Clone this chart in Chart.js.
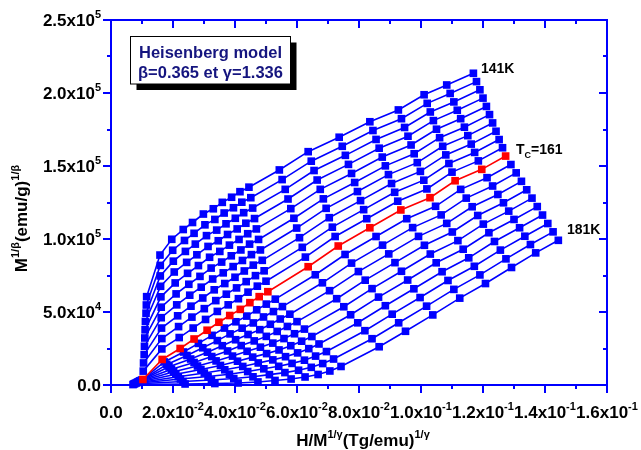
<!DOCTYPE html>
<html>
<head>
<meta charset="utf-8">
<title>Modified Arrott plot</title>
<script src="https://cdn.jsdelivr.net/npm/chart.js@4/dist/chart.umd.min.js"></script>
<style>
  html, body { margin: 0; padding: 0; background: #ffffff; }
  canvas { display: block; }
</style>
</head>
<body>
<canvas id="chart" width="641" height="450"></canvas>
<script>
// H/M^(1/γ) values are given in units of 10^-2 (Tg/emu)^(1/γ),
// M^(1/β) values in units of 10^4 (emu/g)^(1/β).
const X_UNIT = 1e-2;
const Y_UNIT = 1e4;

const temperatures = [141, 143, 145, 147, 149, 151, 153, 155, 157, 159, 161,
                      163, 165, 167, 169, 171, 173, 175, 177, 179, 181];
const TC = 161;

const x141 = [1.15, 1.58, 1.96, 2.33, 2.63, 2.98, 3.30, 3.59, 3.89, 4.16, 4.45, 5.43, 6.36, 7.36, 8.35, 9.27, 10.10, 10.83, 11.69];
const y141 = [6.05, 8.90, 9.98, 10.65, 11.13, 11.71, 12.07, 12.51, 12.86, 13.24, 13.55, 14.73, 15.98, 16.97, 18.03, 18.84, 19.88, 20.55, 21.35];
const x143 = [1.14, 1.59, 1.99, 2.37, 2.68, 3.03, 3.35, 3.65, 3.95, 4.22, 4.51, 5.52, 6.46, 7.46, 8.45, 9.37, 10.20, 10.94, 11.79];
const y143 = [5.48, 8.19, 9.23, 9.90, 10.39, 10.97, 11.34, 11.78, 12.14, 12.52, 12.83, 14.07, 15.33, 16.35, 17.43, 18.24, 19.29, 19.97, 20.78];
const x145 = [1.13, 1.59, 2.01, 2.40, 2.72, 3.08, 3.41, 3.71, 4.01, 4.28, 4.57, 5.62, 6.55, 7.56, 8.55, 9.47, 10.30, 11.06, 11.90];
const y145 = [4.92, 7.47, 8.48, 9.15, 9.65, 10.23, 10.61, 11.04, 11.42, 11.80, 12.12, 13.40, 14.69, 15.73, 16.82, 17.64, 18.70, 19.39, 20.22];
const x147 = [1.11, 1.60, 2.04, 2.44, 2.77, 3.13, 3.46, 3.76, 4.07, 4.35, 4.63, 5.71, 6.65, 7.66, 8.65, 9.58, 10.40, 11.17, 12.00];
const y147 = [4.35, 6.76, 7.74, 8.40, 8.92, 9.49, 9.88, 10.31, 10.69, 11.08, 11.40, 12.74, 14.04, 15.11, 16.22, 17.04, 18.11, 18.82, 19.65];
const x149 = [1.10, 1.61, 2.07, 2.47, 2.82, 3.18, 3.51, 3.82, 4.13, 4.41, 4.69, 5.80, 6.75, 7.76, 8.75, 9.68, 10.50, 11.28, 12.11];
const y149 = [3.78, 6.04, 6.99, 7.65, 8.18, 8.75, 9.15, 9.58, 9.97, 10.36, 10.69, 12.08, 13.40, 14.49, 15.61, 16.44, 17.52, 18.24, 19.08];
const x151 = [1.09, 1.62, 2.10, 2.51, 2.87, 3.23, 3.57, 3.88, 4.19, 4.47, 4.76, 5.90, 6.85, 7.86, 8.85, 9.78, 10.60, 11.40, 12.21];
const y151 = [3.22, 5.33, 6.24, 6.90, 7.44, 8.01, 8.42, 8.85, 9.25, 9.65, 9.97, 11.42, 12.75, 13.87, 15.01, 15.84, 16.94, 17.66, 18.52];
const x153 = [1.08, 1.62, 2.12, 2.54, 2.91, 3.28, 3.62, 3.94, 4.24, 4.53, 4.82, 5.99, 6.94, 7.95, 8.95, 9.88, 10.70, 11.51, 12.31];
const y153 = [2.65, 4.61, 5.49, 6.15, 6.70, 7.26, 7.68, 8.11, 8.53, 8.93, 9.25, 10.75, 12.10, 13.25, 14.41, 15.23, 16.35, 17.08, 17.95];
const x155 = [1.07, 1.63, 2.15, 2.58, 2.96, 3.33, 3.67, 4.00, 4.30, 4.59, 4.88, 6.08, 7.04, 8.05, 9.05, 9.98, 10.80, 11.62, 12.42];
const y155 = [2.08, 3.90, 4.74, 5.40, 5.96, 6.52, 6.95, 7.38, 7.81, 8.21, 8.54, 10.09, 11.46, 12.63, 13.80, 14.63, 15.76, 16.50, 17.38];
const x157 = [1.05, 1.64, 2.18, 2.61, 3.01, 3.38, 3.72, 4.05, 4.36, 4.66, 4.94, 6.17, 7.14, 8.15, 9.15, 10.09, 10.90, 11.73, 12.52];
const y157 = [1.51, 3.18, 4.00, 4.65, 5.23, 5.78, 6.22, 6.65, 7.08, 7.49, 7.82, 9.43, 10.81, 12.01, 13.20, 14.03, 15.17, 15.93, 16.81];
const x159 = [1.04, 1.64, 2.20, 2.65, 3.05, 3.43, 3.78, 4.11, 4.42, 4.72, 5.00, 6.27, 7.23, 8.25, 9.25, 10.19, 11.00, 11.85, 12.63];
const y159 = [0.95, 2.47, 3.25, 3.90, 4.49, 5.04, 5.49, 5.91, 6.36, 6.77, 7.11, 8.76, 10.17, 11.39, 12.59, 13.43, 14.58, 15.35, 16.25];
const x161 = [1.03, 1.65, 2.23, 2.68, 3.10, 3.48, 3.83, 4.17, 4.48, 4.78, 5.06, 6.36, 7.33, 8.35, 9.35, 10.29, 11.10, 11.96, 12.73];
const y161 = [0.38, 1.75, 2.50, 3.15, 3.75, 4.30, 4.76, 5.18, 5.64, 6.05, 6.39, 8.10, 9.52, 10.77, 11.99, 12.83, 13.99, 14.77, 15.68];
const x163 = [1.00, 1.72, 2.34, 2.82, 3.26, 3.66, 4.03, 4.38, 4.70, 5.01, 5.30, 6.59, 7.55, 8.55, 9.54, 10.47, 11.28, 12.13, 12.90];
const y163 = [0.35, 1.58, 2.26, 2.85, 3.40, 3.90, 4.33, 4.72, 5.15, 5.54, 5.88, 7.55, 8.94, 10.17, 11.39, 12.24, 13.40, 14.20, 15.10];
const x165 = [0.97, 1.80, 2.45, 2.96, 3.43, 3.84, 4.23, 4.59, 4.92, 5.24, 5.53, 6.82, 7.76, 8.76, 9.73, 10.65, 11.46, 12.31, 13.07];
const y165 = [0.31, 1.41, 2.02, 2.55, 3.04, 3.50, 3.89, 4.25, 4.66, 5.03, 5.37, 7.00, 8.35, 9.58, 10.78, 11.65, 12.80, 13.63, 14.53];
const x167 = [0.93, 1.87, 2.57, 3.11, 3.59, 4.02, 4.42, 4.80, 5.14, 5.46, 5.77, 7.05, 7.98, 8.96, 9.92, 10.83, 11.65, 12.48, 13.24];
const y167 = [0.28, 1.25, 1.78, 2.25, 2.69, 3.10, 3.46, 3.79, 4.16, 4.52, 4.85, 6.46, 7.77, 8.98, 10.18, 11.07, 12.21, 13.05, 13.95];
const x169 = [0.90, 1.95, 2.68, 3.25, 3.76, 4.20, 4.62, 5.01, 5.36, 5.69, 6.00, 7.28, 8.20, 9.16, 10.11, 11.01, 11.83, 12.66, 13.41];
const y169 = [0.24, 1.08, 1.54, 1.95, 2.33, 2.70, 3.02, 3.33, 3.67, 4.01, 4.34, 5.91, 7.18, 8.38, 9.57, 10.48, 11.61, 12.48, 13.37];
const x171 = [0.87, 2.02, 2.79, 3.39, 3.92, 4.39, 4.82, 5.22, 5.58, 5.92, 6.24, 7.51, 8.42, 9.37, 10.30, 11.19, 12.01, 12.83, 13.58];
const y171 = [0.21, 0.91, 1.30, 1.65, 1.98, 2.31, 2.59, 2.87, 3.18, 3.51, 3.83, 5.36, 6.60, 7.79, 8.97, 9.89, 11.02, 11.91, 12.80];
const x173 = [0.84, 2.09, 2.90, 3.53, 4.08, 4.57, 5.02, 5.42, 5.80, 6.15, 6.48, 7.73, 8.63, 9.57, 10.49, 11.36, 12.19, 13.00, 13.75];
const y173 = [0.17, 0.74, 1.06, 1.34, 1.63, 1.91, 2.15, 2.40, 2.69, 3.00, 3.32, 4.81, 6.02, 7.19, 8.37, 9.30, 10.43, 11.34, 12.22];
const x175 = [0.81, 2.17, 3.01, 3.67, 4.25, 4.75, 5.22, 5.63, 6.02, 6.38, 6.71, 7.96, 8.85, 9.77, 10.68, 11.54, 12.37, 13.18, 13.92];
const y175 = [0.14, 0.57, 0.82, 1.04, 1.27, 1.51, 1.72, 1.94, 2.20, 2.49, 2.81, 4.26, 5.43, 6.59, 7.76, 8.71, 9.83, 10.77, 11.64];
const x177 = [0.77, 2.24, 3.13, 3.82, 4.41, 4.93, 5.41, 5.84, 6.24, 6.60, 6.95, 8.19, 9.07, 9.97, 10.87, 11.72, 12.56, 13.35, 14.09];
const y177 = [0.10, 0.41, 0.58, 0.74, 0.92, 1.11, 1.28, 1.48, 1.70, 1.98, 2.29, 3.72, 4.85, 5.99, 7.16, 8.13, 9.24, 10.19, 11.06];
const x179 = [0.74, 2.32, 3.24, 3.96, 4.58, 5.11, 5.61, 6.05, 6.46, 6.83, 7.18, 8.42, 9.28, 10.18, 11.06, 11.90, 12.74, 13.53, 14.26];
const y179 = [0.07, 0.24, 0.34, 0.44, 0.56, 0.71, 0.85, 1.01, 1.21, 1.47, 1.78, 3.17, 4.26, 5.40, 6.55, 7.54, 8.64, 9.62, 10.49];
const x181 = [0.71, 2.39, 3.35, 4.10, 4.74, 5.29, 5.81, 6.26, 6.68, 7.06, 7.42, 8.65, 9.50, 10.38, 11.25, 12.08, 12.92, 13.70, 14.43];
const y181 = [0.03, 0.07, 0.10, 0.14, 0.21, 0.31, 0.41, 0.55, 0.72, 0.96, 1.27, 2.62, 3.68, 4.80, 5.95, 6.95, 8.05, 9.05, 9.91];

const isothermX = [x141, x143, x145, x147, x149, x151, x153, x155, x157, x159, x161,
                   x163, x165, x167, x169, x171, x173, x175, x177, x179, x181];
const isothermY = [y141, y143, y145, y147, y149, y151, y153, y155, y157, y159, y161,
                   y163, y165, y167, y169, y171, y173, y175, y177, y179, y181];

// Axis ticks and their labels ('^' marks the exponent)
const xMajorTicks = [0, 0.02, 0.04, 0.06, 0.08, 0.10, 0.12, 0.14, 0.16];
const xTickLabels = ['0.0', '2.0x10^-2', '4.0x10^-2', '6.0x10^-2', '8.0x10^-2',
                     '1.0x10^-1', '1.2x10^-1', '1.4x10^-1', '1.6x10^-1'];
const yMajorTicks = [0, 50000, 100000, 150000, 200000, 250000];
const yTickLabels = ['0.0', '5.0x10^4', '1.0x10^5', '1.5x10^5', '2.0x10^5', '2.5x10^5'];

const BLUE = '#0000ff';
const RED = '#ff0000';
const FAMILY = '"Liberation Sans", Arial, Helvetica, sans-serif';
const font = (size) => 'bold ' + size + 'px ' + FAMILY;

const datasets = temperatures.map((t, i) => {
  const color = t === TC ? RED : BLUE;
  return {
    label: t + ' K',
    data: isothermX[i].map((v, j) => ({ x: v * X_UNIT, y: isothermY[i][j] * Y_UNIT })),
    showLine: true,
    borderColor: color,
    backgroundColor: color,
    borderWidth: 1.6,
    pointStyle: 'rect',
    pointRadius: 5.4,
    pointBorderWidth: 0,
    pointBackgroundColor: color,
    tension: 0,
    clip: false,
    order: t === TC ? -1 : 0
  };
});

// Split "a^b" / "a_b" into normal, superscript and subscript runs
function runs(str) {
  const out = [];
  const re = /([\^_])\{([^}]*)\}|([\^_])([^\^_{]+)$|([^\^_]+)/g;
  let m;
  while ((m = re.exec(str)) !== null) {
    if (m[1]) out.push({ t: m[2], mode: m[1] });
    else if (m[3]) out.push({ t: m[4], mode: m[3] });
    else out.push({ t: m[5], mode: '' });
  }
  return out;
}

function runsWidth(ctx, parts, size, small) {
  let w = 0;
  for (const p of parts) {
    ctx.font = font(p.mode ? small : size);
    w += ctx.measureText(p.t).width;
  }
  return w;
}

function drawRuns(ctx, parts, x, y, size, small, rise) {
  for (const p of parts) {
    ctx.font = font(p.mode ? small : size);
    const dy = p.mode === '^' ? -rise : (p.mode === '_' ? rise * 0.55 : 0);
    ctx.fillText(p.t, x, y + dy);
    x += ctx.measureText(p.t).width;
  }
}

const axesFrame = {
  id: 'axesFrame',
  afterDatasetsDraw(chart) {
    const { ctx, chartArea: a, scales } = chart;
    const xs = scales.x, ys = scales.y;
    ctx.save();
    ctx.strokeStyle = BLUE;
    ctx.lineWidth = 2;
    ctx.lineCap = 'butt';
    ctx.strokeRect(a.left, a.top, a.right - a.left, a.bottom - a.top);

    const seg = (x1, y1, x2, y2) => { ctx.beginPath(); ctx.moveTo(x1, y1); ctx.lineTo(x2, y2); ctx.stroke(); };

    // x ticks: every 0.01, labelled every 0.02; outward at bottom, inward at top
    for (let i = 0; i <= 16; i++) {
      const px = Math.round(xs.getPixelForValue(i * 0.01));
      const len = i % 2 === 0 ? 8 : 4;
      seg(px, a.bottom, px, a.bottom + len);
      seg(px, a.top, px, a.top + len);
    }
    // y ticks: every 2.5x10^4, labelled every 5x10^4; outward at left, inward at right
    for (let i = 0; i <= 10; i++) {
      const py = Math.round(ys.getPixelForValue(i * 25000));
      const len = i % 2 === 0 ? 8 : 4;
      seg(a.left - len, py, a.left, py);
      seg(a.right, py, a.right - len, py);
    }

    ctx.fillStyle = '#000000';
    ctx.textBaseline = 'alphabetic';
    ctx.textAlign = 'left';
    xMajorTicks.forEach((v, i) => {
      const parts = runs(xTickLabels[i]);
      const w = runsWidth(ctx, parts, 17, 11);
      const px = xs.getPixelForValue(v);
      drawRuns(ctx, parts, px - w / 2, a.bottom + 33, 17, 11, 8);
    });
    yMajorTicks.forEach((v, i) => {
      const parts = runs(yTickLabels[i]);
      const w = runsWidth(ctx, parts, 17, 11);
      const py = ys.getPixelForValue(v);
      drawRuns(ctx, parts, a.left - 10 - w, py + 6, 17, 11, 8);
    });

    // axis titles
    const xTitle = runs('H/M^{1/γ}(Tg/emu)^{1/γ}');
    const wx = runsWidth(ctx, xTitle, 17, 11);
    drawRuns(ctx, xTitle, (a.left + a.right) / 2 + 4 - wx / 2, a.bottom + 61, 17, 11, 8);

    const yTitle = runs('M^{1/β}(emu/g)^{1/β}');
    const wy = runsWidth(ctx, yTitle, 17, 11);
    ctx.save();
    ctx.translate(27, (a.top + a.bottom) / 2 + 16);
    ctx.rotate(-Math.PI / 2);
    drawRuns(ctx, yTitle, -wy / 2, 0, 17, 11, 8);
    ctx.restore();
    ctx.restore();
  },
  afterDraw(chart) {
    const { ctx } = chart;
    ctx.save();
    // model box with drop shadow
    const bx = 130.5, by = 36.5, bw = 160, bh = 47.5;
    ctx.fillStyle = '#000000';
    ctx.fillRect(bx + 6, by + 6, bw, bh);
    ctx.fillStyle = '#ffffff';
    ctx.fillRect(bx, by, bw, bh);
    ctx.strokeStyle = '#000000';
    ctx.lineWidth = 1;
    ctx.strokeRect(bx, by, bw, bh);

    ctx.fillStyle = '#15157f';
    ctx.textAlign = 'center';
    ctx.textBaseline = 'middle';
    ctx.font = font(16.5);
    ctx.fillText('Heisenberg model', bx + bw / 2, by + 17);
    ctx.fillText('β=0.365 et γ=1.336', bx + bw / 2, by + 37);

    // isotherm annotations
    ctx.fillStyle = '#000000';
    ctx.textAlign = 'left';
    ctx.font = font(14);
    ctx.fillText('141K', 481, 69.5);
    ctx.fillText('181K', 567, 230);
    ctx.textBaseline = 'alphabetic';
    drawRuns(ctx, runs('T_{C}=161'), 516, 154, 14, 9, 8);
    ctx.restore();
  }
};

new Chart(document.getElementById('chart').getContext('2d'), {
  type: 'scatter',
  data: { datasets },
  options: {
    responsive: false,
    animation: false,
    devicePixelRatio: 1,
    layout: { padding: { left: 111, right: 34, top: 20, bottom: 65 } },
    scales: {
      x: { type: 'linear', min: 0, max: 0.16, display: false },
      y: { type: 'linear', min: 0, max: 250000, display: false }
    },
    plugins: {
      legend: { display: false },
      tooltip: { enabled: false }
    }
  },
  plugins: [axesFrame]
});
</script>
</body>
</html>
